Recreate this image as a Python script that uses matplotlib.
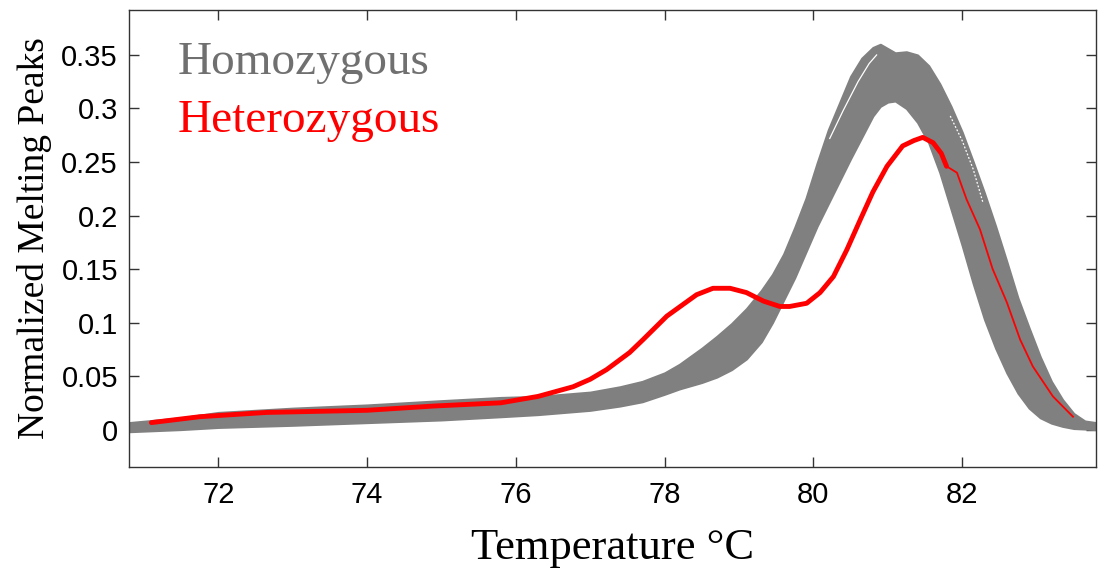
import matplotlib
matplotlib.use("Agg")
import matplotlib.pyplot as plt
from matplotlib.ticker import FuncFormatter, MultipleLocator

# homozygous band, read as upper / lower edge of the gray bundle of curves
temps = [70.8, 71.5, 72, 73, 74, 75, 75.8, 76.3, 77.0, 77.4, 77.7, 78.0, 78.2,
         78.5, 78.7, 78.9, 79.1, 79.3, 79.45, 79.6, 79.75, 79.9, 80.05, 80.2,
         80.35, 80.5, 80.65, 80.8, 80.9, 81.0, 81.1, 81.25, 81.4, 81.55, 81.7,
         81.85, 82.0, 82.15, 82.3, 82.45, 82.6, 82.75, 82.9, 83.05, 83.2,
         83.35, 83.5, 83.65, 83.8]
homo_upper = [0.0065, 0.011, 0.016, 0.020, 0.023, 0.027, 0.030, 0.031, 0.035,
              0.040, 0.045, 0.053, 0.061, 0.076, 0.087, 0.099, 0.113, 0.130,
              0.145, 0.164, 0.189, 0.216, 0.249, 0.280, 0.305, 0.330, 0.347,
              0.357, 0.360, 0.356, 0.352, 0.353, 0.350, 0.340, 0.323, 0.302,
              0.278, 0.250, 0.221, 0.190, 0.157, 0.123, 0.095, 0.068, 0.045,
              0.028, 0.015, 0.008, 0.0065]
homo_lower = [-0.002, 0.0, 0.002, 0.004, 0.0065, 0.009, 0.012, 0.014, 0.018,
              0.022, 0.026, 0.033, 0.038, 0.044, 0.049, 0.056, 0.066, 0.082,
              0.100, 0.121, 0.142, 0.166, 0.190, 0.211, 0.232, 0.253, 0.273,
              0.293, 0.302, 0.306, 0.307, 0.300, 0.287, 0.268, 0.240, 0.206,
              0.172, 0.136, 0.103, 0.076, 0.053, 0.034, 0.020, 0.011, 0.006,
              0.003, 0.001, 0.0005, 0.0]

# thin white gaps visible between individual homozygous curves
gap1_t = [80.22, 80.4, 80.6, 80.75, 80.85]
gap1_v = [0.272, 0.298, 0.325, 0.342, 0.350]
gap2_t = [81.84, 82.0, 82.15, 82.28]
gap2_v = [0.293, 0.270, 0.243, 0.212]

# heterozygous curve
het_t = [71.1, 71.75, 72.65, 74.0, 74.9, 75.8, 76.3, 76.77, 77.0, 77.22, 77.53,
         77.71, 78.03, 78.21, 78.43, 78.65, 78.88, 79.10, 79.33, 79.55, 79.68,
         79.91, 80.09, 80.27, 80.45, 80.63, 80.8, 80.99, 81.2, 81.35, 81.47,
         81.61, 81.72, 81.79, 81.93, 82.06, 82.24, 82.41, 82.6, 82.78, 82.95,
         83.22, 83.49]
het_v = [0.0065, 0.012, 0.016, 0.018, 0.022, 0.025, 0.031, 0.040, 0.047, 0.056,
         0.072, 0.084, 0.106, 0.115, 0.126, 0.132, 0.132, 0.128, 0.120, 0.115,
         0.115, 0.118, 0.128, 0.143, 0.168, 0.196, 0.222, 0.246, 0.265, 0.270,
         0.273, 0.268, 0.258, 0.246, 0.240, 0.215, 0.187, 0.150, 0.119, 0.084,
         0.059, 0.031, 0.012]

x_ticks = [72, 74, 76, 78, 80, 82]

gray = "#808080"
red = "#ff0000"
sans = ["Liberation Sans", "DejaVu Sans"]
serif = ["Liberation Serif", "DejaVu Serif"]

fig = plt.figure(figsize=(11, 5.79), dpi=100)
ax = fig.add_axes([0.1173, 0.1934, 0.8791, 0.7893])

ax.fill_between(temps, homo_lower, homo_upper, color=gray, lw=1.5,
                edgecolor=gray, zorder=2)
ax.plot(gap1_t, gap1_v, color="white", lw=0.9, zorder=2.5)
ax.plot(gap2_t, gap2_v, color="white", lw=0.9, ls=(0, (1.5, 1.5)), zorder=2.5)

# red: thick where it is outside the band, thin where gray curves cover it
split = 34
ax.plot(het_t[:split], het_v[:split], color=red, lw=3.5, zorder=3,
        solid_capstyle="round", solid_joinstyle="round")
ax.plot(het_t[split - 1:], het_v[split - 1:], color=red, lw=1.3, zorder=3)

ax.text(71.45, 0.332, "Homozygous", color="#707070", fontsize=34,
        family=serif, va="baseline")
ax.text(71.45, 0.2776, "Heterozygous", color=red, fontsize=34,
        family=serif, va="baseline")

ax.set_xlim(70.8, 83.8)
ax.set_ylim(-0.035, 0.392)
ax.set_xticks(x_ticks)
ax.yaxis.set_major_locator(MultipleLocator(0.05))
ax.yaxis.set_major_formatter(FuncFormatter(lambda v, p: "%g" % round(v, 2)))

ax.tick_params(direction="in", top=True, right=True, length=7, width=1,
               color="#333333")
ax.tick_params(axis="x", pad=10, labelsize=21)
ax.tick_params(axis="y", pad=8, labelsize=21)
for lab in ax.get_xticklabels() + ax.get_yticklabels():
    lab.set_family(sans)
for s in ax.spines.values():
    s.set_color("#333333")
    s.set_linewidth(1)

ax.set_xlabel("Temperature °C", family=serif, fontsize=32, labelpad=14)
ax.set_ylabel("Normalized Melting Peaks", family=serif, fontsize=27, labelpad=7)

fig.savefig("out.png", dpi=100)
